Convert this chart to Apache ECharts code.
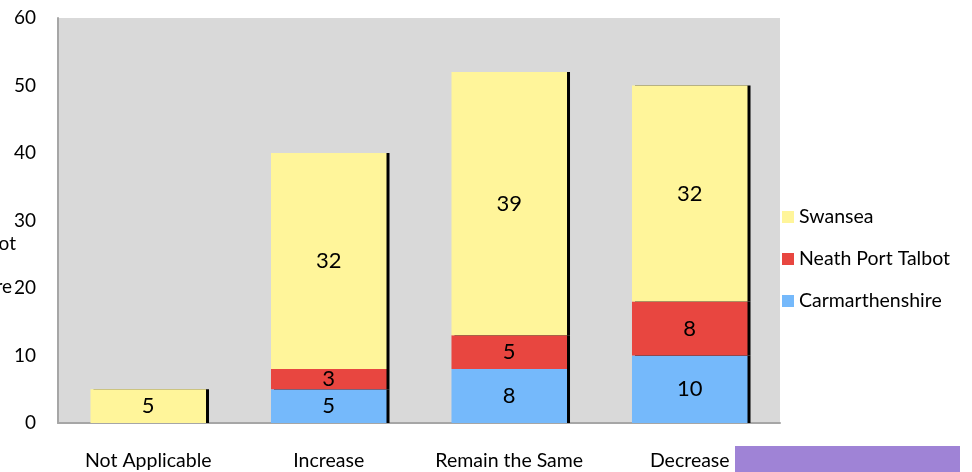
<!DOCTYPE html>
<html>
<head>
<meta charset="utf-8">
<script src="https://cdn.jsdelivr.net/npm/echarts@6/dist/echarts.min.js"></script>
<style>
  html, body { margin: 0; padding: 0; background: #fff; }
  #chart { width: 972px; height: 472px; }
</style>
</head>
<body>
<div id="chart"></div>
<script>
var categories = ['Not Applicable', 'Increase', 'Remain the Same', 'Decrease']
var carmarthenshire = [null, 5, 8, 10]
var neathPortTalbot = [null, 3, 5, 8]
var swansea = [5, 32, 39, 32]
var yTicks = { min: 0, max: 60, interval: 10 }

var font = 'Lato, "Open Sans", sans-serif'

function barSeries(name, data, color) {
  return {
    name: name,
    type: 'bar',
    stack: 'total',
    barWidth: '64%',
    data: data,
    itemStyle: {
      color: color,
      shadowColor: '#000',
      shadowOffsetX: 3,
      shadowOffsetY: 0,
      shadowBlur: 0
    },
    label: {
      show: true,
      position: 'inside',
      color: '#000',
      fontSize: 22,
      fontFamily: font
    }
  }
}

var chart = echarts.init(document.getElementById('chart'))
chart.setOption({
  animation: false,
  backgroundColor: '#fff',
  grid: {
    left: 58, right: 192, top: 18, bottom: 49,
    show: true, backgroundColor: '#d9d9d9', borderWidth: 0
  },
  legend: {
    orient: 'vertical',
    left: 777,
    top: 202,
    itemWidth: 12,
    itemHeight: 12,
    itemGap: 22,
    itemTextGap: 5,
    icon: 'rect',
    data: ['Swansea', 'Neath Port Talbot', 'Carmarthenshire'],
    textStyle: { fontSize: 19.5, color: '#000', fontFamily: font }
  },
  xAxis: {
    type: 'category',
    data: categories,
    axisTick: { show: false },
    axisLine: { lineStyle: { color: '#a6a6a6', width: 2 } },
    axisLabel: { interval: 0, hideOverlap: false, fontSize: 19.5, color: '#000', fontFamily: font, margin: 28 }
  },
  yAxis: {
    type: 'value',
    min: yTicks.min,
    max: yTicks.max,
    interval: yTicks.interval,
    splitLine: { show: false },
    axisTick: { show: false },
    axisLine: { show: true, lineStyle: { color: '#a6a6a6', width: 2 } },
    axisLabel: { fontSize: 19, color: '#000', fontFamily: font, margin: 22 }
  },
  graphic: [
    { type: 'text', right: 956, top: 234, style: { text: 'ot', fontSize: 19, fill: '#000', fontFamily: font } },
    { type: 'text', right: 960, top: 277, style: { text: 're', fontSize: 19, fill: '#000', fontFamily: font } },
    { type: 'rect', left: 735, top: 446, shape: { width: 225, height: 30 }, style: { fill: '#9f83d6' } }
  ],
  series: [
    barSeries('Carmarthenshire', carmarthenshire, '#75b9fb'),
    barSeries('Neath Port Talbot', neathPortTalbot, '#e84640'),
    barSeries('Swansea', swansea, '#fff59a')
  ]
})
</script>
</body>
</html>
